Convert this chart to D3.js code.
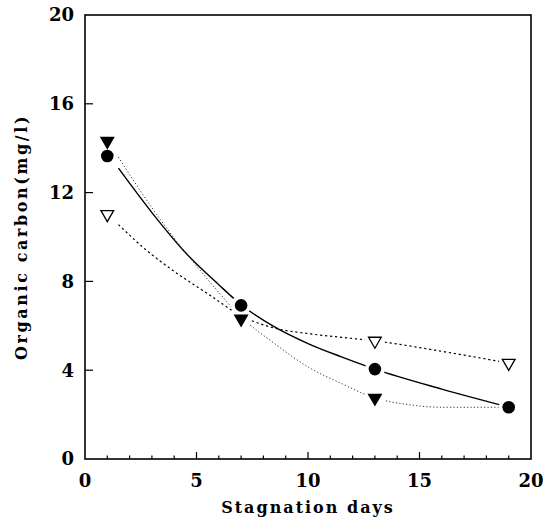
<!DOCTYPE html>
<html>
<head>
<meta charset="utf-8">
<script src="https://cdn.jsdelivr.net/npm/d3@7"></script>
<style>
  body { margin: 0; background: #fff; }
  svg { display: block; }
</style>
</head>
<body>
<div id="chart"></div>
<script>
// measured points (null where the marker is hidden behind another one)
const days = [1, 7, 13, 19]
const circleVals = [13.65, 6.92, 4.05, 2.33]
const filledTriVals = [14.32, 6.31, 2.75, null]
const openTriVals = [11.02, null, 5.32, 4.32]

// fitted curves as [day, value]
const circleFit = [[1.5, 13.1], [3, 11.1], [4.5, 9.3], [6, 7.85], [7, 6.95], [8.5, 5.95], [10, 5.2], [11.5, 4.6], [13, 4.05], [16, 3.15], [19, 2.34]]
const filledTriFit = [[1.5, 13.6], [2.5, 12.05], [3.66, 10.4], [5, 8.7], [6, 7.5], [7, 6.4], [8.5, 5.2], [10, 4.15], [11.5, 3.4], [13, 2.75], [14.5, 2.45], [16, 2.33], [19, 2.33]]
const openTriFit = [[1.5, 10.56], [2.7, 9.45], [4, 8.45], [5.5, 7.45], [7, 6.45], [8.7, 5.85], [10, 5.65], [11.5, 5.48], [13, 5.32], [16, 4.85], [19, 4.32]]

const xTicks = [0, 5, 10, 15, 20]
const yTicks = [0, 4, 8, 12, 16, 20]

const width = 545
const height = 532
const margin = { left: 85, right: 14, top: 15, bottom: 73 }

const svg = d3
  .select('#chart')
  .append('svg')
  .attr('width', width)
  .attr('height', height)

const x = d3.scaleLinear().domain([0, 20]).range([margin.left, width - margin.right])
const y = d3.scaleLinear().domain([0, 20]).range([height - margin.bottom, margin.top])

const labelFont = '"DejaVu Serif", serif'

// frame
svg
  .append('rect')
  .attr('x', x(0))
  .attr('y', y(20))
  .attr('width', x(20) - x(0))
  .attr('height', y(0) - y(20))
  .attr('fill', 'none')
  .attr('stroke', '#000')
  .attr('stroke-width', 1.6)

// x ticks (inward), minor every day
const xAxis = svg.append('g')
xAxis
  .selectAll('line')
  .data(d3.range(1, 20))
  .join('line')
  .attr('x1', d => x(d))
  .attr('x2', d => x(d))
  .attr('y1', y(0))
  .attr('y2', d => (d % 5 === 0 ? y(0) - 7 : y(0) - 3.5))
  .attr('stroke', '#000')
  .attr('stroke-width', 1.2)

xAxis
  .selectAll('text')
  .data(xTicks)
  .join('text')
  .attr('x', d => x(d))
  .attr('y', y(0) + 28)
  .attr('text-anchor', 'middle')
  .attr('font-family', labelFont)
  .attr('font-size', '18px')
  .attr('font-weight', 'bold')
  .text(d => d)

// y ticks
const yAxis = svg.append('g')
yAxis
  .selectAll('line')
  .data(yTicks.slice(1, -1))
  .join('line')
  .attr('x1', x(0))
  .attr('x2', x(0) + 8)
  .attr('y1', d => y(d))
  .attr('y2', d => y(d))
  .attr('stroke', '#000')
  .attr('stroke-width', 1.2)

yAxis
  .selectAll('text')
  .data(yTicks)
  .join('text')
  .attr('x', x(0) - 11)
  .attr('y', d => y(d))
  .attr('dy', '0.36em')
  .attr('text-anchor', 'end')
  .attr('font-family', labelFont)
  .attr('font-size', '18px')
  .attr('font-weight', 'bold')
  .text(d => d)

// axis titles
svg
  .append('text')
  .attr('x', 308)
  .attr('y', 513)
  .attr('text-anchor', 'middle')
  .attr('font-family', labelFont)
  .attr('font-size', '16px')
  .attr('font-weight', 'bold')
  .attr('letter-spacing', '2px')
  .text('Stagnation days')

svg
  .append('text')
  .attr('transform', 'translate(27,237) rotate(-90)')
  .attr('text-anchor', 'middle')
  .attr('font-family', labelFont)
  .attr('font-size', '16px')
  .attr('font-weight', 'bold')
  .attr('letter-spacing', '2.6px')
  .text('Organic carbon(mg/l)')

// fitted lines
const line = d3
  .line()
  .x(d => x(d[0]))
  .y(d => y(d[1]))
  .curve(d3.curveMonotoneX)

const lines = svg.append('g').attr('fill', 'none').attr('stroke', '#000')
lines.append('path').attr('d', line(circleFit)).attr('stroke-width', 1.4)
lines
  .append('path')
  .attr('d', line(filledTriFit))
  .attr('stroke-width', 1)
  .attr('stroke', '#333')
  .attr('stroke-dasharray', '1.2,2.2')
lines
  .append('path')
  .attr('d', line(openTriFit))
  .attr('stroke-width', 1.2)
  .attr('stroke-dasharray', '2.2,2.8')

const points = vals => days.map((d, i) => [d, vals[i]]).filter(p => p[1] !== null)
const circlePts = points(circleVals)
const filledPts = points(filledTriVals)
const openPts = points(openTriVals)

// white gaps round the markers
svg
  .append('g')
  .selectAll('circle')
  .data(circlePts.concat(filledPts, openPts))
  .join('circle')
  .attr('cx', d => x(d[0]))
  .attr('cy', d => y(d[1]))
  .attr('r', 10)
  .attr('fill', '#fff')

const tri = d3.symbol().type(d3.symbolTriangle).size(70)
const markers = svg.append('g')

markers
  .selectAll('path.open')
  .data(openPts)
  .join('path')
  .attr('class', 'open')
  .attr('transform', d => `translate(${x(d[0])},${y(d[1])}) rotate(180)`)
  .attr('d', tri)
  .attr('fill', '#fff')
  .attr('stroke', '#000')
  .attr('stroke-width', 1.3)

markers
  .selectAll('path.filled')
  .data(filledPts)
  .join('path')
  .attr('class', 'filled')
  .attr('transform', d => `translate(${x(d[0])},${y(d[1])}) rotate(180)`)
  .attr('d', tri)
  .attr('fill', '#000')
  .attr('stroke', '#000')
  .attr('stroke-width', 1.3)

markers
  .selectAll('circle')
  .data(circlePts)
  .join('circle')
  .attr('cx', d => x(d[0]))
  .attr('cy', d => y(d[1]))
  .attr('r', 6.3)
  .attr('fill', '#000')
</script>
</body>
</html>
